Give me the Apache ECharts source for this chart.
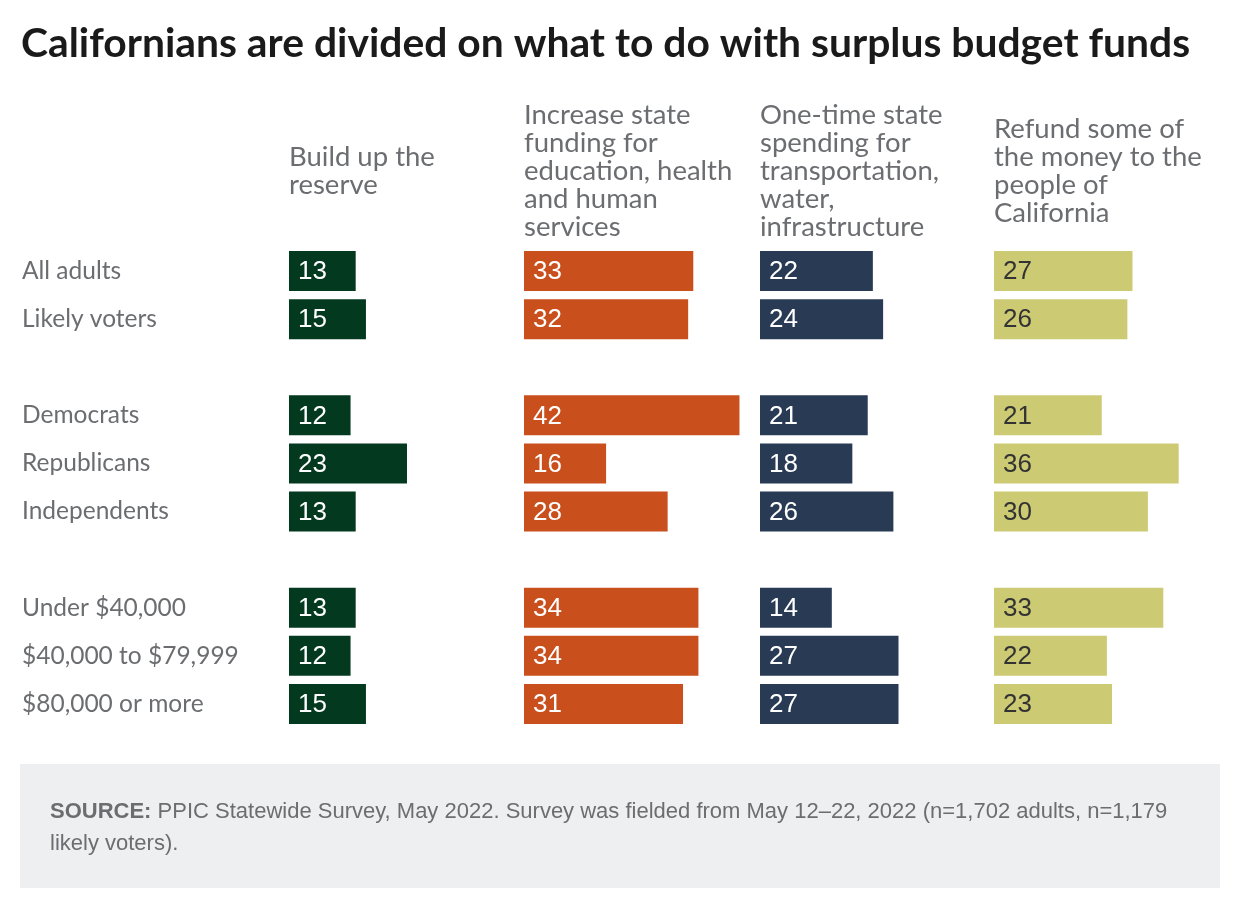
<!DOCTYPE html>
<html><head><meta charset="utf-8">
<script src="https://cdn.jsdelivr.net/npm/echarts@6/dist/echarts.min.js"></script>
<style>html,body{margin:0;padding:0;background:#fff}#c{width:1240px;height:908px}</style>
</head><body><div id="c"></div>
<script>
const categories = ['All adults','Likely voters','','Democrats','Republicans','Independents','','Under $40,000','$40,000 to $79,999','$80,000 or more'];
const headers = ['Build up the\nreserve','Increase state\nfunding for\neducation, health\nand human\nservices','One-time state\nspending for\ntransportation,\nwater,\ninfrastructure','Refund some of\nthe money to the\npeople of\nCalifornia'];
const reserve = [13,15,null,12,23,13,null,13,12,15];
const services = [33,32,null,42,16,28,null,34,34,31];
const infrastructure = [22,24,null,21,18,26,null,14,27,27];
const refund = [27,26,null,21,36,30,null,33,22,23];
const seriesData = [reserve, services, infrastructure, refund];
const colors = ['#03391f','#c94f1c','#293a55','#cdca74'];
const labelColors = ['#ffffff','#ffffff','#ffffff','#333333'];
const lefts = [289,524,760,994];
const MAX = 45, PX = 5.13;
const TOP = 247, H = 481;

const chart = echarts.init(document.getElementById('c'));
const grids=[], xAxes=[], yAxes=[], series=[], graphics=[];
for (let i=0;i<4;i++){
  grids.push({left:lefts[i], top:TOP, width:MAX*PX, height:H});
  xAxes.push({type:'value', gridIndex:i, min:0, max:MAX, show:false});
  yAxes.push({type:'category', gridIndex:i, data:categories, inverse:true,
    axisLine:{show:false}, axisTick:{show:false}, splitLine:{show:false},
    axisLabel:{show:i===0, align:'left', margin:267, fontFamily:'Lato', fontSize:24.5, color:'#6b6d70'}});
  series.push({type:'bar', xAxisIndex:i, yAxisIndex:i, data:seriesData[i], barWidth:40,
    itemStyle:{color:colors[i]}, silent:true,
    label:{show:true, position:'insideLeft', offset:[-1,1], distance:10, formatter:p=>p.value, fontFamily:'Liberation Sans', fontSize:26, color:labelColors[i]}});
  graphics.push({type:'text', left:lefts[i], top:171 - headers[i].split('\n').length*28/2,
    style:{text:headers[i], fontFamily:'Lato', fontSize:27.5, lineHeight:28, fill:'#6b6d70'}});
}
graphics.push({type:'text', left:21, top:23, style:{text:'Californians are divided on what to do with surplus budget funds', fontFamily:'Lato', fontWeight:'bold', fontSize:40.8, fill:'#1a1a1a'}});
graphics.push({type:'rect', shape:{x:20,y:764,width:1200,height:124}, style:{fill:'#eeeff1'}});
graphics.push({type:'text', left:50, top:796, style:{text:'{b|SOURCE:} PPIC Statewide Survey, May 2022. Survey was fielded from May 12–22, 2022 (n=1,702 adults, n=1,179\nlikely voters).',
  fontFamily:'Liberation Sans', fontSize:22, lineHeight:32, fill:'#6b6d70',
  rich:{b:{fontWeight:'bold', fontFamily:'Liberation Sans', fontSize:22, lineHeight:32, fill:'#6b6d70'}}}});
chart.setOption({animation:false, grid:grids, xAxis:xAxes, yAxis:yAxes, series:series, graphic:graphics});
</script></body></html>
